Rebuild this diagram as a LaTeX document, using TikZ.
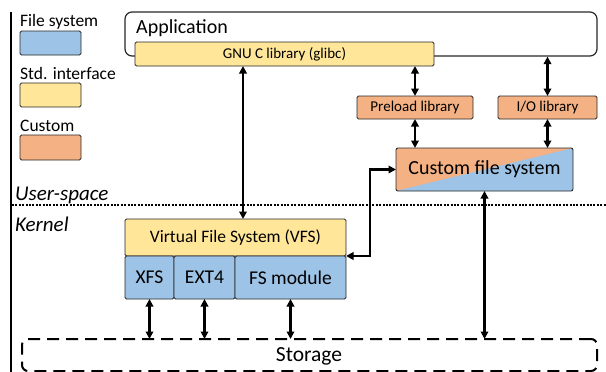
\documentclass[tikz,border=0pt]{standalone}
\usepackage{fontspec}
\setmainfont{Carlito}
\usetikzlibrary{arrows.meta,calc}

\definecolor{fsblue}{RGB}{157,195,230}
\definecolor{stdyellow}{RGB}{255,230,153}
\definecolor{custorange}{RGB}{244,177,131}
\definecolor{edge}{RGB}{40,40,40}

\newcommand{\fsz}[1]{\fontsize{#1}{#1}\selectfont}

\tikzset{
  layer/.style={draw=edge, line width=0.9pt, rounded corners=1.5pt,
    inner sep=0pt, outer sep=0pt, align=center},
  fsbox/.style={layer, fill=fsblue},
  stdbox/.style={layer, fill=stdyellow},
  custbox/.style={layer, fill=custorange},
  legendtext/.style={anchor=base west, inner sep=0pt, font=\fsz{17.5}},
  arr/.style={line width=2.3pt, {Triangle[length=7.5pt,width=7.5pt]}-{Triangle[length=7.5pt,width=7.5pt]}},
}

\begin{document}
\begin{tikzpicture}[x=1pt, y=-1pt]
\useasboundingbox (0,0) rectangle (606,372);

% left rule of the figure
\draw[line width=2pt] (11,12) coordinate (ruletop) -- (11,372) coordinate (rulebot);

% legend
\node[legendtext] (lgfs) at (20,26.5) {File system};
\node[fsbox, minimum width=61, minimum height=24] (lgfsbox) at (50.5,43) {};
\node[legendtext] (lgstd) at (20,79) {Std. interface};
\node[stdbox, minimum width=61, minimum height=24] (lgstdbox) at (50.5,95) {};
\node[legendtext] (lgcus) at (20,131) {Custom};
\node[custbox, minimum width=61, minimum height=25] (lgcusbox) at (50.5,147.5) {};

% application and user-space libraries
\node[draw=edge, line width=1.2pt, rounded corners=7pt, fill=white,
      minimum width=472, minimum height=44, inner sep=0pt] (app) at (361,34) {};
\node[anchor=base west, inner sep=0pt, font=\fsz{20}] (apptxt) at (136,33.5) {Application};
\node[stdbox, minimum width=299, minimum height=24, font=\fsz{15}] (glibc) at (284.5,54) {GNU C library (glibc)};
\node[custbox, minimum width=116, minimum height=23, font=\fsz{15}] (preload) at (415,107.5) {Preload library};
\node[custbox, minimum width=99, minimum height=23, font=\fsz{15}] (iolib) at (547.5,107.5) {I/O library};

% custom file system: split orange / blue fill
\node[minimum width=177, minimum height=43, inner sep=0pt, outer sep=0pt] (cfs) at (484.5,169.5) {};
\begin{scope}
  \clip[rounded corners=2pt] (cfs.north west) rectangle (cfs.south east);
  \fill[custorange] (cfs.north west) rectangle (cfs.south east);
  \fill[fsblue] (cfs.south west) -- (cfs.north east) -- (cfs.south east) -- cycle;
\end{scope}
\draw[draw=edge, line width=0.9pt, rounded corners=2pt] (cfs.north west) rectangle (cfs.south east);
\node[font=\fsz{20}, inner sep=0pt] (cfstxt) at (cfs.center) {Custom file system};

% user-space / kernel boundary
\draw[line width=1.9pt, dash pattern=on 1.9pt off 1.5pt] (12,205) coordinate (divl) -- (606,205) coordinate (divr);
\node[anchor=base west, inner sep=0pt, font=\fsz{21}\itshape] (us) at (15,200) {User-space};
\node[anchor=base west, inner sep=0pt, font=\fsz{21}\itshape] (kern) at (15,231) {Kernel};

% kernel side
\node[stdbox, minimum width=221, minimum height=37, font=\fsz{17.5}] (vfs) at (235.5,237.5) {Virtual File System (VFS)};
\node[fsbox, minimum width=49, minimum height=43, font=\fsz{19.5}] (xfs) at (149.5,277.5) {XFS};
\node[fsbox, minimum width=61, minimum height=43, font=\fsz{19.5}] (ext4) at (204.5,277.5) {EXT4};
\node[fsbox, minimum width=111, minimum height=43, font=\fsz{19.5}] (fsmod) at (290.5,277.5) {FS module};

% storage
\node[draw=black, line width=2pt, dash pattern=on 12pt off 7pt, rounded corners=6pt,
      minimum width=575, minimum height=32, inner sep=0pt, outer sep=0pt] (storage) at (309.5,355) {};
\node[font=\fsz{21.5}, inner sep=0pt] (stortxt) at (309,356.5) {Storage};

% connectors
\draw[arr] ([xshift=-41.5]glibc.south) -- ([xshift=-41.5]glibc.south |- vfs.north);
\draw[arr] (preload.north) -- (preload.north |- glibc.south);
\draw[arr] (iolib.north) -- (iolib.north |- app.south);
\draw[arr] (preload.south) -- (preload.south |- cfs.north);
\draw[arr] (iolib.south) -- (iolib.south |- cfs.north);
\draw[arr] (cfs.west) -- ++(-26,0) |- (fsmod.north east);
\draw[arr] (xfs.south) -- (xfs.south |- storage.north);
\draw[arr] (ext4.south) -- (ext4.south |- storage.north);
\draw[arr] (fsmod.south) -- (fsmod.south |- storage.north);
\draw[arr] (cfs.south) -- (cfs.south |- storage.north);
\end{tikzpicture}
\end{document}
